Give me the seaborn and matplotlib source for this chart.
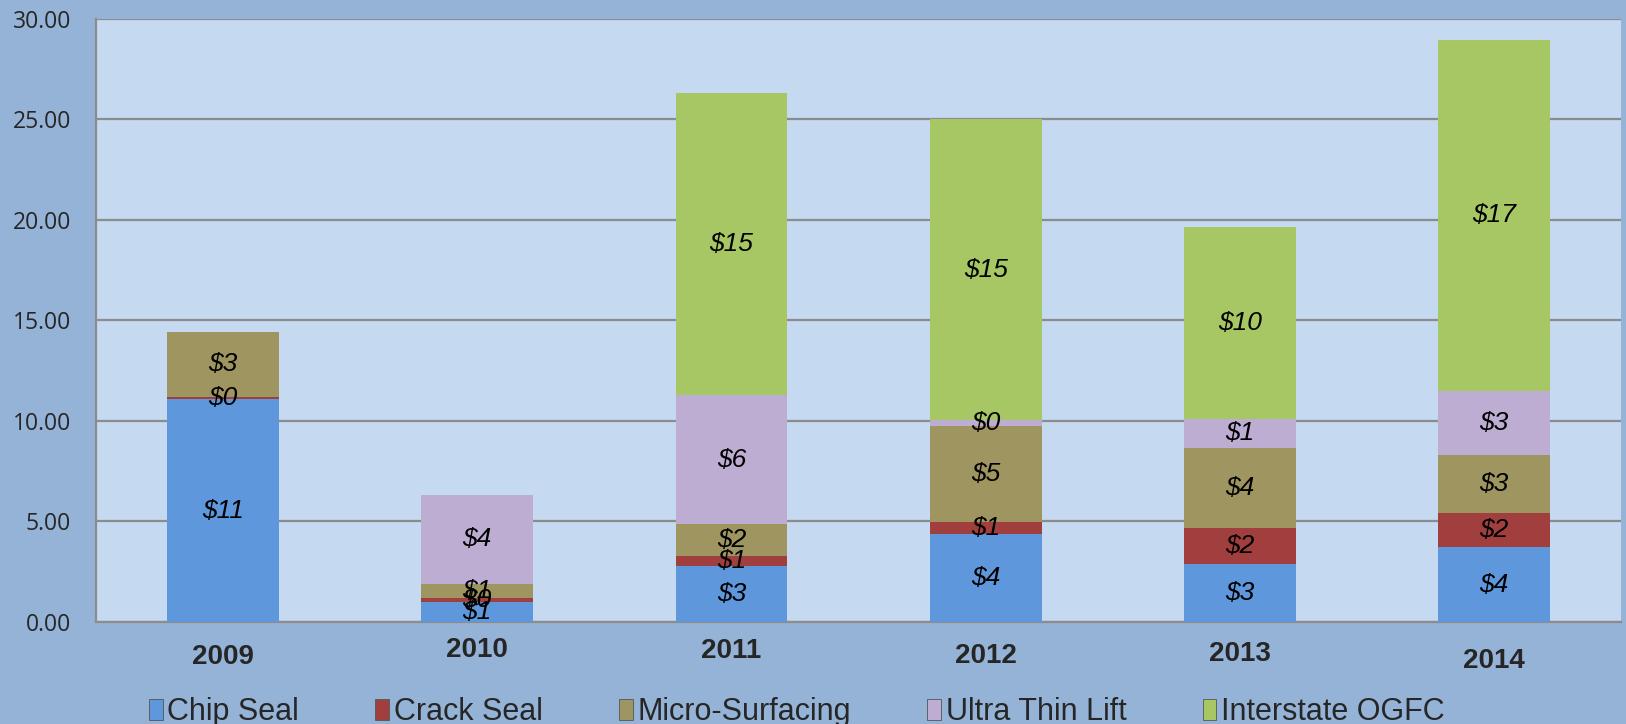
import numpy as np
import matplotlib
matplotlib.use("Agg")
import matplotlib.pyplot as plt
import matplotlib.transforms as mtransforms
from matplotlib.patches import Patch
import seaborn as sns

sns.set_style("white")
plt.rcParams['font.family'] = ['Liberation Sans', 'DejaVu Sans']

# dados (milhoes de dolares)
years = ['2009', '2010', '2011', '2012', '2013', '2014']
series = ['Chip Seal', 'Crack Seal', 'Micro-Surfacing', 'Ultra Thin Lift', 'Interstate OGFC']
chip_seal = [11.08, 0.98, 2.78, 4.38, 2.89, 3.71]
crack_seal = [0.10, 0.21, 0.52, 0.57, 1.80, 1.70]
micro_surfacing = [3.25, 0.71, 1.55, 4.79, 3.97, 2.89]
ultra_thin_lift = [np.nan, 4.40, 6.44, 0.31, 1.44, 3.19]
interstate_ogfc = [np.nan, np.nan, 15.00, 14.95, 9.54, 17.48]

colors = ['#5F97DC', '#A03F3E', '#9E9560', '#BEADD2', '#A6C764']
bg_outer = '#95B3D7'
bg_plot = '#C5D9F1'

values = np.array([chip_seal, crack_seal, micro_surfacing, ultra_thin_lift, interstate_ogfc], dtype=float)
filled = np.nan_to_num(values)
tops = np.cumsum(filled, axis=0)

fig = plt.figure(figsize=(16.26, 7.24), dpi=100, facecolor=bg_outer)
ax = fig.add_axes([0.059, 0.141, 0.938, 0.833])
ax.set_facecolor(bg_plot)

# barras empilhadas: desenha do topo para a base, cada uma por cima da anterior
for i in range(len(series) - 1, -1, -1):
    sns.barplot(x=years, y=tops[i], color=colors[i], width=0.44, ax=ax,
                saturation=1, linewidth=0, zorder=3)

# rotulos de valor
for i in range(len(series)):
    for j in range(len(years)):
        v = values[i, j]
        if np.isnan(v):
            continue
        ax.text(j, tops[i, j] - filled[i, j] / 2, f'${v:.0f}', ha='center', va='center',
                fontsize=19, fontstyle='italic', color='black', zorder=5)

ax.set_xlim(-0.5, 5.5)
ax.set_ylim(0, 30)
ax.set_yticks(np.arange(0, 30.1, 5))
ax.set_yticklabels([f'{t:.2f}' for t in np.arange(0, 30.1, 5)], fontsize=16.5,
                   fontfamily=['Open Sans', 'DejaVu Sans'])
ax.set_xticks(range(len(years)))
ax.set_xticklabels(years, fontsize=20, fontweight='bold')
ax.tick_params(axis='both', length=0)
ax.tick_params(axis='y', pad=18)
ax.tick_params(axis='x', pad=11)
ax.set_xlabel('')
ax.set_ylabel('')

# deslocamento vertical dos rotulos do eixo x, como no original
shifts = [5, 0, 0.7, 4.5, 3, 7.5]
for lab, s in zip(ax.get_xticklabels(), shifts):
    lab.set_transform(lab.get_transform() + mtransforms.ScaledTranslation(0, -s / 72, fig.dpi_scale_trans))

ax.grid(axis='y', color='#8C8C8C', linewidth=1.6, zorder=1)
ax.set_axisbelow(True)
for side in ['top', 'right']:
    ax.spines[side].set_visible(False)
ax.spines['left'].set_color('#8C8C8C')
ax.spines['left'].set_linewidth(1.6)
ax.spines['bottom'].set_color('#8C8C8C')
ax.spines['bottom'].set_linewidth(1.6)

handles = [Patch(facecolor=c, edgecolor='#555555', linewidth=0.6) for c in colors]
fig.legend(handles, series, loc='center', bbox_to_anchor=(0.49, 0.016), ncol=5,
           frameon=False, handlelength=0.45, handleheight=0.7,
           handletextpad=0.15, columnspacing=2.5,
           prop={'family': ['Liberation Sans', 'DejaVu Sans'], 'size': 22})

fig.savefig('out.png', dpi=100, facecolor=bg_outer)
